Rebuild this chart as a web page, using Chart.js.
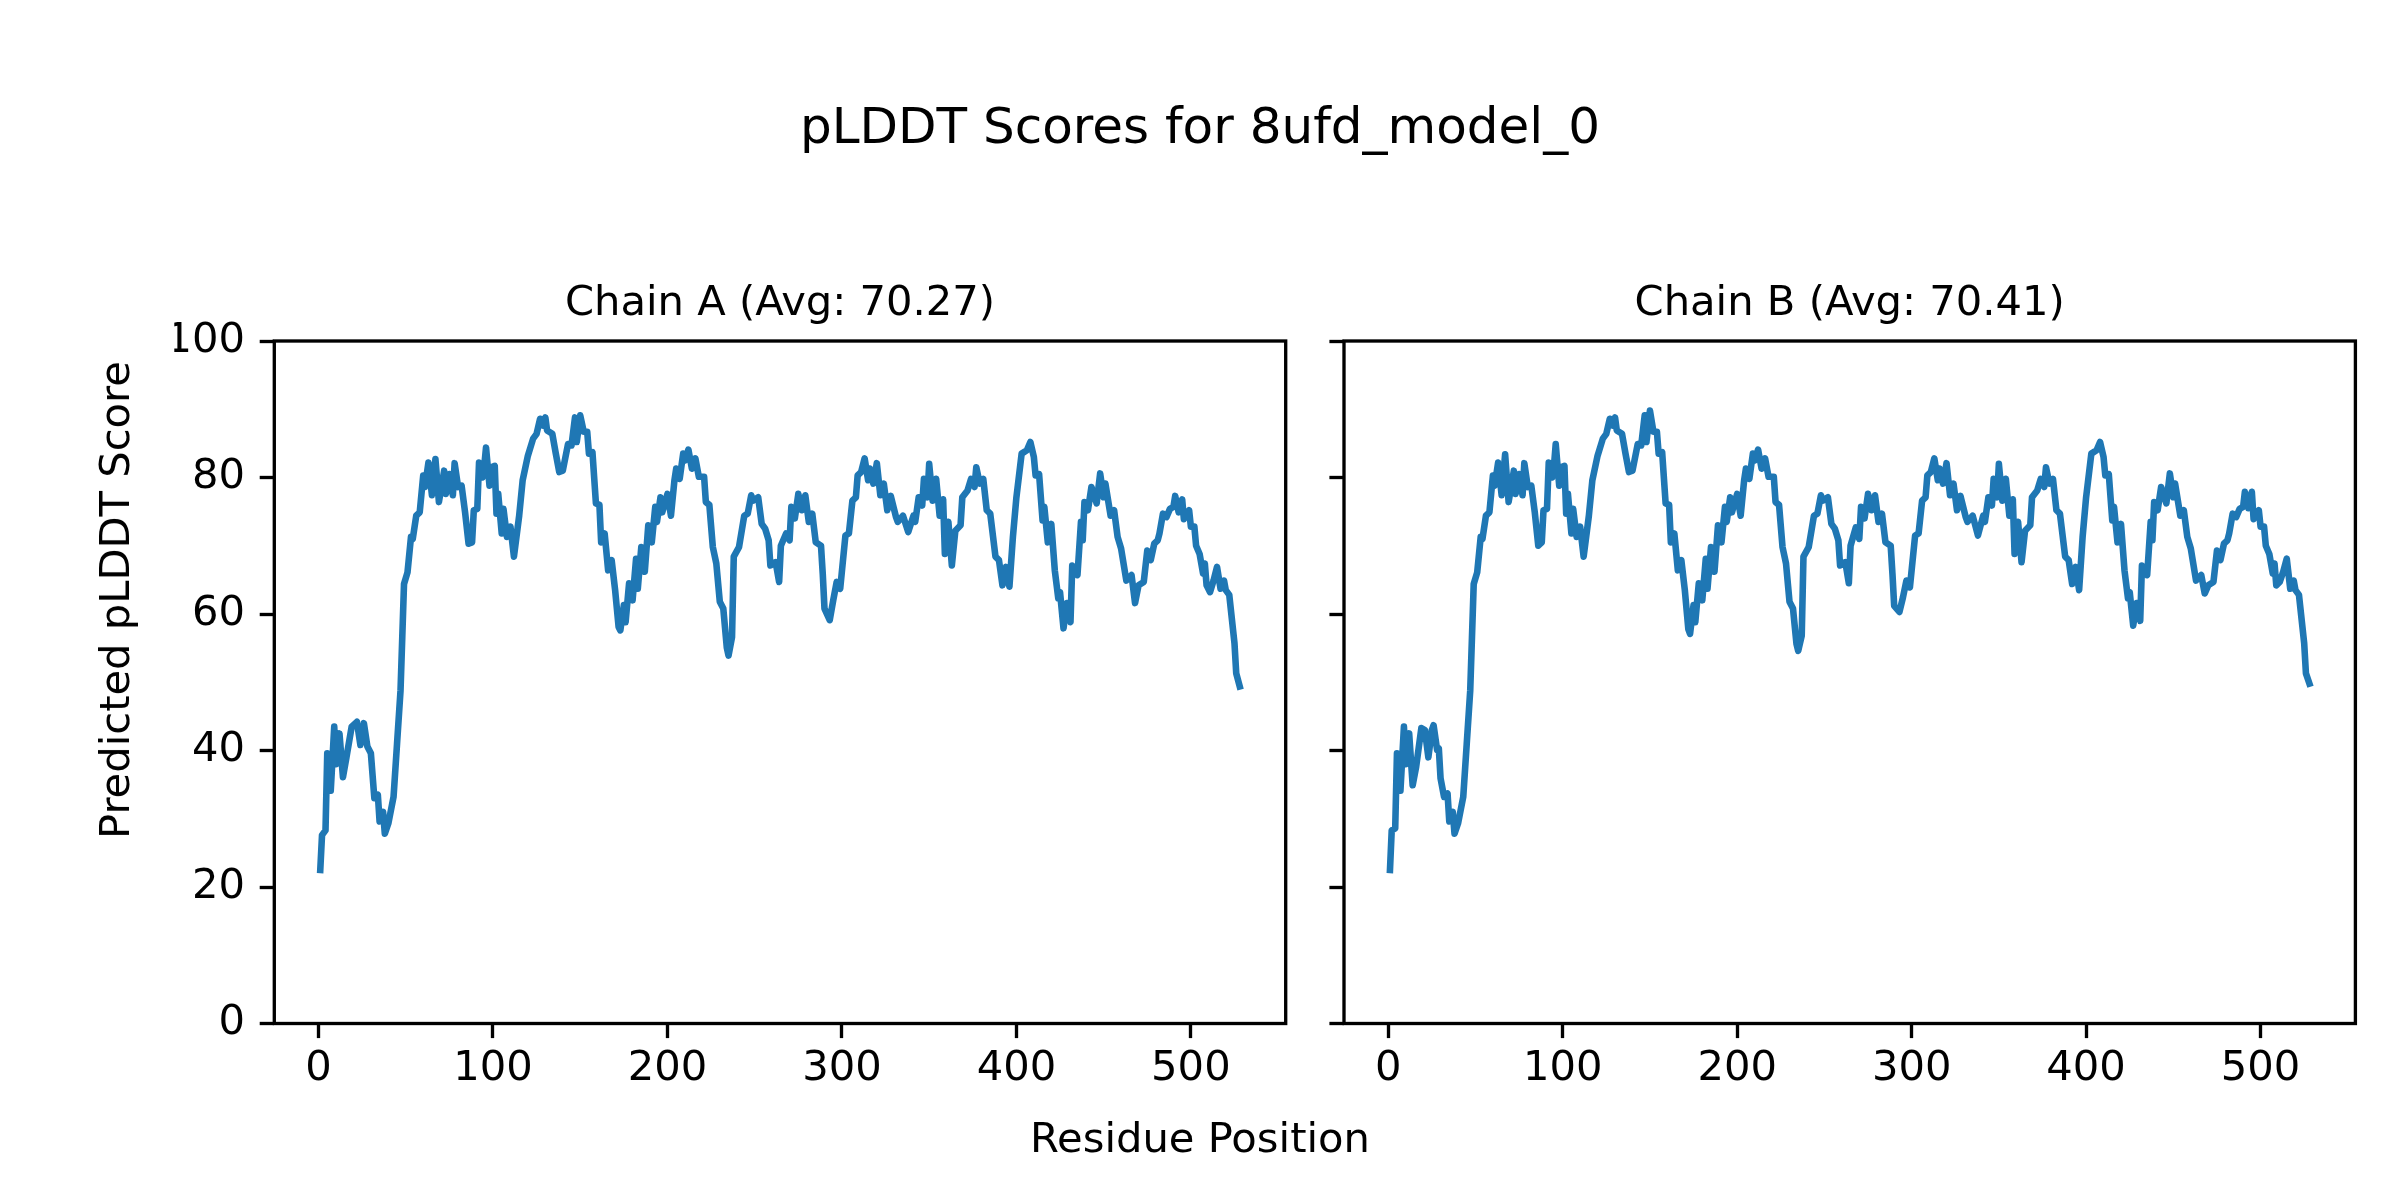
<!DOCTYPE html>
<html>
<head>
<meta charset="utf-8">
<title>pLDDT Scores for 8ufd_model_0</title>
<script src="https://cdn.jsdelivr.net/npm/chart.js@4.4.1/dist/chart.umd.min.js"></script>
<style>
  html, body { margin: 0; padding: 0; background: #fff; }
  #fig { position: relative; width: 2400px; height: 1200px; background: #fff; overflow: hidden;
         font-family: 'DejaVu Sans', sans-serif; color: #000; }
  #fig canvas { position: absolute; top: 0; }
  #chartA { left: 0; }
  #chartB { left: 1300px; }
  .suptitle { position: absolute; left: 0; top: 96px; width: 2400px; text-align: center;
              font-size: 50px; line-height: 60px; white-space: nowrap; }
  .supxlabel { position: absolute; left: 0; top: 1113px; width: 2400px; text-align: center;
               font-size: 41.67px; line-height: 50px; white-space: nowrap; }
  .supylabel { position: absolute; left: 115px; top: 600px; font-size: 41.67px; line-height: 50px;
               white-space: nowrap; transform: translate(-50%, -50%) rotate(-90deg); }
</style>
</head>
<body>
<div id="fig">
  <div class="suptitle">pLDDT Scores for 8ufd_model_0</div>
  <canvas id="chartA" width="1310" height="1200"></canvas>
  <canvas id="chartB" width="1100" height="1200"></canvas>
  <div class="supxlabel">Residue Position</div>
  <div class="supylabel">Predicted pLDDT Score</div>
</div>
<script>
// ---- data ----
const chainNames = ['A', 'B'];
const chainAvg = [70.27, 70.41];

const chainARes = [1,2,4,5,7,9,10,12,14,16,19,22,24,26,28,30,32,34,35,37,38,40,43,45,47,48,49,51,53,54,
  56,58,60,61,63,65,67,69,72,73,75,77,78,80,82,84,86,88,89,91,92,94,95,96,98,99,101,102,103,105,
  106,108,110,112,115,117,120,123,125,127,129,130,131,134,136,138,140,143,145,147,148,150,152,154,155,157,159,161,162,164,
  166,168,170,172,173,175,176,178,180,182,183,185,187,189,191,193,194,196,197,200,202,204,205,207,209,210,212,214,216,218,
  221,222,224,226,228,230,232,234,235,237,238,241,244,246,248,249,252,254,256,258,259,262,264,265,268,270,271,273,275,277,
  279,281,283,285,288,289,290,293,295,297,299,302,304,306,308,309,311,313,315,316,318,320,322,324,326,328,331,332,335,338,
  341,342,344,346,347,349,350,352,354,356,358,359,361,363,365,368,369,372,374,376,377,379,381,383,385,388,390,392,394,396,
  398,400,403,406,408,410,411,413,415,416,418,420,422,424,425,427,429,431,432,435,437,438,439,441,443,446,448,450,451,454,
  456,458,460,463,466,468,470,473,475,477,479,481,482,484,486,488,490,491,493,495,496,499,500,502,503,505,507,508,509,511,
  513,515,517,519,520,522,525,526,528];
const chainAScore = [22.5,27.6,28.3,39.6,34.1,43.5,38.0,42.5,36.1,39.0,43.5,44.2,40.8,44.0,40.6,39.6,33.0,33.5,29.6,31.0,27.8,29.3,33.2,41.0,48.8,56.6,64.4,66.1,71.3,71.0,
  74.4,74.9,80.3,78.6,82.2,77.4,82.7,76.4,81.0,77.6,80.5,77.4,82.1,78.6,78.8,74.9,70.3,70.5,75.2,75.4,82.2,80.0,81.7,84.4,78.8,81.5,81.7,74.7,77.6,71.8,
  75.4,71.3,72.8,68.4,74.4,79.6,83.2,85.7,86.4,88.6,87.6,88.8,86.9,86.4,83.5,80.8,81.0,84.9,84.7,88.8,85.2,89.1,86.7,86.7,83.5,83.7,76.2,76.0,70.5,71.8,
  66.4,67.9,63.5,58.1,57.6,61.3,58.8,64.5,62.0,68.1,63.7,69.8,66.2,73.0,70.5,75.7,73.5,77.1,74.9,77.6,74.4,79.6,81.3,79.8,83.5,82.5,84.1,81.3,82.8,80.1,
  80.1,76.4,76.0,69.8,67.4,61.8,60.8,55.1,53.9,56.6,68.4,69.8,74.4,74.7,77.4,76.6,77.1,73.2,72.5,70.8,67.1,67.6,64.7,70.0,71.8,70.8,75.7,74.0,77.6,75.2,
  77.4,73.5,74.7,70.5,70.0,65.9,60.8,59.1,62.0,64.7,63.7,71.5,71.8,76.6,77.1,80.3,80.8,82.8,79.6,81.3,79.1,82.1,77.4,79.1,75.2,77.3,74.2,73.5,74.4,72.0,
  74.4,73.5,77.1,75.9,79.8,77.1,82.0,76.6,79.8,74.4,76.8,68.8,73.5,67.1,72.2,73.0,77.1,78.1,79.8,78.6,81.5,79.1,79.8,75.2,74.7,68.4,67.9,64.2,66.9,64.0,
  71.3,77.1,83.5,84.0,85.2,83.0,80.3,80.5,73.7,75.7,70.5,73.2,66.4,62.3,63.2,57.9,61.6,58.8,67.1,65.7,73.5,70.8,76.4,75.2,78.6,76.2,80.6,77.1,79.1,74.4,
  75.2,71.3,69.6,64.9,65.7,61.6,64.2,64.7,69.3,67.9,70.3,70.8,71.8,74.7,74.2,75.4,75.7,77.3,74.9,76.8,73.9,75.2,72.8,72.8,70.0,68.8,65.9,67.4,64.2,63.2,
  64.9,66.9,63.7,64.9,63.5,62.8,55.7,51.3,49.4];

const chainBRes = [1,2,4,5,7,9,10,12,14,16,19,21,23,25,26,28,29,30,32,34,35,37,38,40,43,45,47,48,49,51,53,54,
  56,58,60,61,63,65,67,69,72,73,75,77,78,80,82,84,86,88,89,91,92,94,95,96,98,99,101,102,103,105,
  106,108,110,112,115,117,120,123,125,127,129,130,131,134,136,138,140,143,145,147,148,150,152,154,155,157,159,161,162,164,
  166,168,170,172,173,175,176,178,180,182,183,185,187,189,191,193,194,196,197,200,202,204,205,207,209,210,212,214,216,218,
  221,222,224,226,228,230,232,234,235,237,238,241,244,246,248,249,252,254,256,258,259,262,264,265,268,270,271,273,275,277,
  279,281,283,285,288,289,290,293,295,297,299,302,304,306,308,309,311,313,315,316,318,320,322,324,326,328,331,332,335,338,
  341,342,344,346,347,349,350,352,354,356,358,359,361,363,365,368,369,372,374,376,377,379,381,383,385,388,390,392,394,396,
  398,400,403,406,408,410,411,413,415,416,418,420,422,424,425,427,429,431,432,435,437,438,439,441,443,446,448,450,451,454,
  456,458,460,463,466,468,470,473,475,477,479,481,482,484,486,488,490,491,493,495,496,499,500,502,503,505,507,508,509,511,
  513,515,517,519,520,522,525,526,528];
const chainBScore = [22.5,28.3,28.6,39.6,34.1,43.5,38.0,42.5,34.9,37.6,43.3,43.0,39.0,43.0,43.7,40.1,40.3,35.9,33.2,33.7,29.6,31.0,27.8,29.3,33.2,41.0,48.8,56.6,64.4,66.1,71.3,71.0,
  74.4,74.9,80.3,78.8,82.2,77.4,83.4,76.4,81.0,77.6,80.5,77.4,82.1,78.6,78.8,74.9,70.0,70.5,75.2,75.4,82.2,80.0,81.7,84.9,78.8,81.5,81.7,74.7,77.6,71.8,
  75.4,71.3,72.8,68.4,74.4,79.6,83.2,85.7,86.4,88.6,87.6,88.8,86.9,86.4,83.5,80.8,81.0,84.9,84.7,89.1,85.2,89.8,86.7,86.7,83.5,83.7,76.2,76.0,70.5,71.8,
  66.4,67.9,63.5,57.8,57.1,61.3,58.8,64.5,62.0,68.1,63.7,69.8,66.2,73.0,70.5,75.7,73.5,77.1,74.9,77.6,74.4,79.6,81.3,79.8,83.5,82.5,84.1,81.3,82.8,80.1,
  80.1,76.4,76.0,69.8,67.4,61.8,60.8,55.6,54.6,56.8,68.4,69.8,74.4,74.7,77.4,76.6,77.1,73.2,72.5,70.8,67.1,67.6,64.5,70.0,72.7,71.0,75.7,74.0,77.6,75.2,
  77.4,73.5,74.7,70.5,70.0,65.9,61.2,60.3,62.4,64.9,63.9,71.5,71.8,76.6,77.1,80.3,80.8,82.8,79.6,81.3,79.1,82.1,77.4,79.1,75.2,77.3,74.2,73.5,74.4,71.5,
  74.4,73.5,77.1,75.9,79.8,77.1,82.0,76.6,79.8,74.4,76.8,68.8,73.5,67.6,72.2,73.0,77.1,78.1,79.8,78.6,81.5,79.1,79.8,75.2,74.7,68.4,67.9,64.4,66.9,63.5,
  71.3,77.1,83.5,84.0,85.2,83.0,80.3,80.5,73.7,75.7,70.5,73.2,66.4,62.3,63.2,58.3,61.6,59.0,67.1,65.7,73.5,70.8,76.4,75.2,78.6,76.2,80.6,77.1,79.1,74.4,
  75.2,71.3,69.6,64.9,65.7,63.0,64.2,64.7,69.3,67.9,70.3,70.8,71.8,74.7,74.2,75.4,75.7,77.9,75.5,77.9,73.9,75.2,72.8,72.8,70.0,68.8,65.9,67.4,64.2,64.7,
  66.2,68.1,63.7,64.9,63.5,62.8,55.7,51.3,49.8];

const xTicks = [0, 100, 200, 300, 400, 500];
const yTicks = [0, 20, 40, 60, 80, 100];
const xMin = -25.35, xMax = 554.35;
const yMin = 0, yMax = 100;

// ---- styling ----
const FONT = "'DejaVu Sans', sans-serif";
const LINE_BLUE = '#1f77b4';

// matplotlib-style box around the axes
const framePlugin = {
    id: 'frame',
    afterDraw(chart) {
        const { ctx, chartArea: a } = chart;
        ctx.save();
        ctx.strokeStyle = '#000';
        ctx.lineWidth = 3.33;
        ctx.strokeRect(a.left, a.top, a.right - a.left, a.bottom - a.top);
        ctx.restore();
    }
};

const tickGrid = { display: true, drawOnChartArea: false, drawTicks: true, tickLength: 14.6, tickWidth: 3.33, tickColor: '#000' };

function makeChart(canvasId, res, score, title, showYLabels, padding, yWidth) {
    return new Chart(document.getElementById(canvasId), {
        type: 'line',
        data: {
            datasets: [{
                data: res.map((x, i) => ({ x: x, y: score[i] })),
                borderColor: LINE_BLUE,
                borderWidth: 6.6,
                pointRadius: 0,
                tension: 0,
                borderJoinStyle: 'round',
                borderCapStyle: 'square',
                fill: false
            }]
        },
        options: {
            responsive: false,
            animation: false,
            devicePixelRatio: 1,
            layout: { padding: padding },
            plugins: {
                legend: { display: false },
                tooltip: { enabled: false },
                title: {
                    display: true,
                    text: title,
                    fullSize: false,
                    color: '#000',
                    font: { family: FONT, size: 41.67, weight: 'normal', lineHeight: 1.2 },
                    padding: { top: 29.4, bottom: 11.6 }
                }
            },
            scales: {
                x: {
                    type: 'linear',
                    min: xMin,
                    max: xMax,
                    afterBuildTicks: s => { s.ticks = xTicks.map(v => ({ value: v })); },
                    afterFit: s => { s.height = 120; },
                    grid: tickGrid,
                    border: { display: false },
                    ticks: {
                        color: '#000',
                        font: { family: FONT, size: 41.67 },
                        padding: 6,
                        autoSkip: false,
                        maxRotation: 0,
                        callback: v => String(v)
                    }
                },
                y: {
                    type: 'linear',
                    min: yMin,
                    max: yMax,
                    afterBuildTicks: s => { s.ticks = yTicks.map(v => ({ value: v })); },
                    afterFit: s => { s.width = yWidth; },
                    grid: tickGrid,
                    border: { display: false },
                    ticks: {
                        display: showYLabels,
                        color: '#000',
                        font: { family: FONT, size: 41.67 },
                        padding: 14.6,
                        autoSkip: false,
                        callback: v => String(v)
                    }
                }
            }
        },
        plugins: [framePlugin]
    });
}

makeChart('chartA', chainARes, chainAScore,
    'Chain ' + chainNames[0] + ' (Avg: ' + chainAvg[0].toFixed(2) + ')', true,
    { top: 250, left: 174.3, right: 24.3, bottom: 56.5 }, 100);

makeChart('chartB', chainBRes, chainBScore,
    'Chain ' + chainNames[1] + ' (Avg: ' + chainAvg[1].toFixed(2) + ')', false,
    { top: 250, left: 0, right: 44.6, bottom: 56.5 }, 44);
</script>
</body>
</html>
